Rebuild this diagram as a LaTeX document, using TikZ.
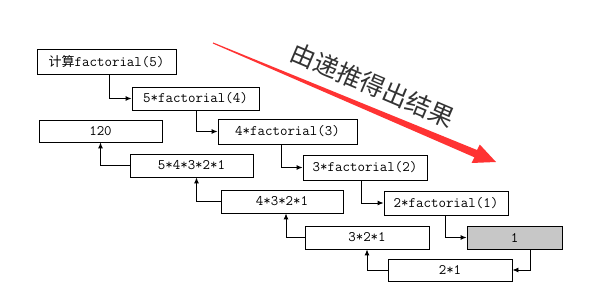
\documentclass[tikz,border=0pt]{standalone}
\usepackage{fontspec}
\newfontfamily\cjk{Noto Sans CJK SC}
\usetikzlibrary{arrows.meta}
\begin{document}
\begin{tikzpicture}[x=1pt,y=-1pt,
  box/.style={draw=black,line width=0.9pt,rectangle,inner sep=0pt,font=\ttfamily\fontsize{14.5}{14.5}\selectfont},
  arr/.style={line width=0.9pt,-{Latex[length=6pt,width=5pt]}}]
\useasboundingbox[fill=white] (0,0) rectangle (597,304);
% boxes: center, width, height
\node[box,minimum width=139,minimum height=25] (A) at (106.5,61.5) {{\cjk\fontsize{13}{13}\selectfont 计算}factorial(5)};
\node[box,minimum width=127,minimum height=23] (B) at (195.5,98.5) {5*factorial(4)};
\node[box,minimum width=139,minimum height=25] (C) at (287.5,131.5) {4*factorial(3)};
\node[box,minimum width=124,minimum height=25] (D) at (365,167.5) {3*factorial(2)};
\node[box,minimum width=124,minimum height=24] (E) at (446,203) {2*factorial(1)};
\node[box,minimum width=95,minimum height=23,fill=black!22] (one) at (514.5,237.5) {1};
\node[box,minimum width=124,minimum height=22] (r2) at (450,270) {2*1};
\node[box,minimum width=124,minimum height=23] (r3) at (367,237.5) {3*2*1};
\node[box,minimum width=122,minimum height=23] (r4) at (282,201.5) {4*3*2*1};
\node[box,minimum width=123,minimum height=23] (r5) at (191.5,165.5) {5*4*3*2*1};
\node[box,minimum width=123,minimum height=22] (r6) at (100.5,131) {120};
% descending connectors
\draw[arr] ([xshift=73]A.south west) |- (B.west);
\draw[arr] ([xshift=65]B.south west) |- (C.west);
\draw[arr] ([xshift=64]C.south west) |- (D.west);
\draw[arr] ([xshift=59]D.south west) |- (E.west);
\draw[arr] ([xshift=62]E.south west) |- (one.west);
\draw[arr] ([xshift=64]one.south west) |- (r2.east);
% ascending connectors
\draw[arr] (r2.west) -| (r3.south);
\draw[arr] (r3.west) -| ([xshift=4]r4.south);
\draw[arr] (r4.west) -| ([xshift=5]r5.south);
\draw[arr] (r5.west) -| (r6.south);
% red arrow
\fill[red!80!white] (212.8,43.5) -- (474.4,157.3) -- (471.5,163) -- (496,162) -- (479.8,144.6) -- (477.0,150.0) -- (213.2,42.5) -- cycle;
\node[font=\cjk\fontsize{25}{25}\selectfont,text=black!80,rotate=-23] (lbl) at (373,85) {由递推得出结果};
\end{tikzpicture}
\end{document}
